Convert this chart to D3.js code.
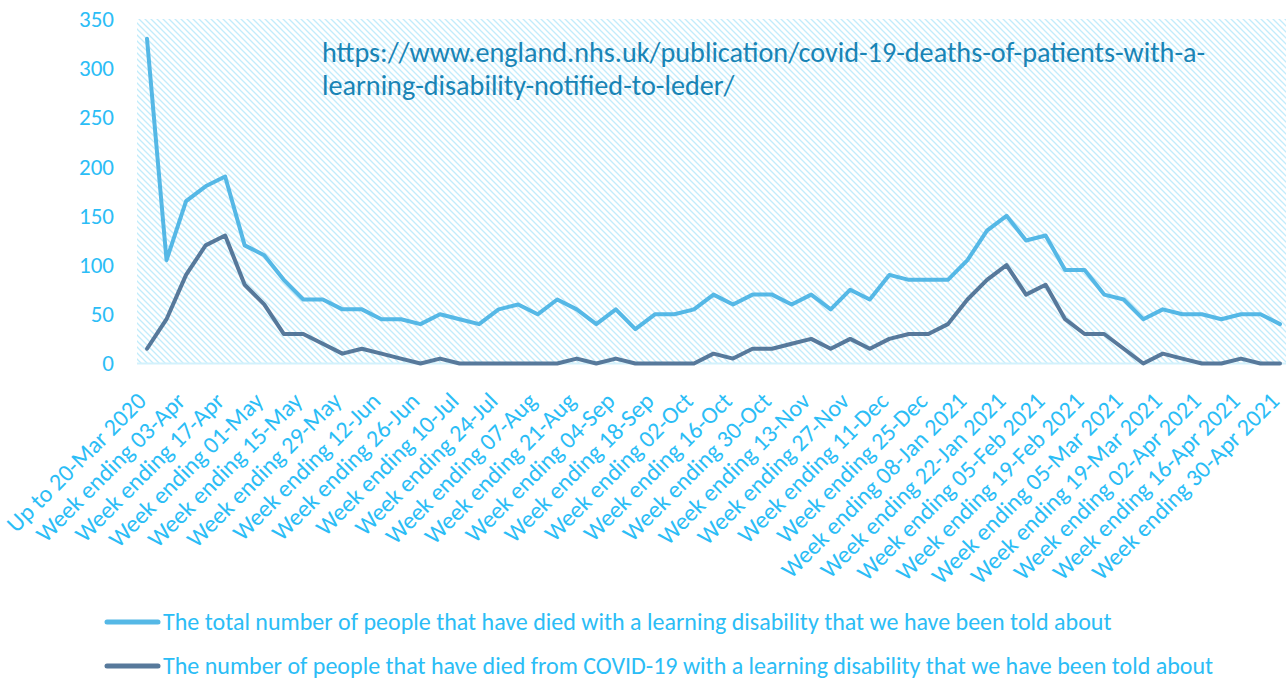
<!DOCTYPE html>
<html>
<head>
<meta charset="utf-8">
<script src="https://cdn.jsdelivr.net/npm/d3@7"></script>
<style>
  html, body { margin: 0; padding: 0; background: #fff; }
  svg { display: block; font-family: Carlito, Calibri, Lato, sans-serif; }
</style>
</head>
<body>
<div class="app"></div>
<script>
// weekly categories
var categories = [
  "Up to 20-Mar 2020", "Week ending 27-Mar", "Week ending 03-Apr", "Week ending 10-Apr",
  "Week ending 17-Apr", "Week ending 24-Apr", "Week ending 01-May", "Week ending 08-May",
  "Week ending 15-May", "Week ending 22-May", "Week ending 29-May", "Week ending 05-Jun",
  "Week ending 12-Jun", "Week ending 19-Jun", "Week ending 26-Jun", "Week ending 03-Jul",
  "Week ending 10-Jul", "Week ending 17-Jul", "Week ending 24-Jul", "Week ending 31-Jul",
  "Week ending 07-Aug", "Week ending 14-Aug", "Week ending 21-Aug", "Week ending 28-Aug",
  "Week ending 04-Sep", "Week ending 11-Sep", "Week ending 18-Sep", "Week ending 25-Sep",
  "Week ending 02-Oct", "Week ending 09-Oct", "Week ending 16-Oct", "Week ending 23-Oct",
  "Week ending 30-Oct", "Week ending 06-Nov", "Week ending 13-Nov", "Week ending 20-Nov",
  "Week ending 27-Nov", "Week ending 04-Dec", "Week ending 11-Dec", "Week ending 18-Dec",
  "Week ending 25-Dec", "Week ending 01-Jan 2021", "Week ending 08-Jan 2021", "Week ending 15-Jan 2021",
  "Week ending 22-Jan 2021", "Week ending 29-Jan 2021", "Week ending 05-Feb 2021", "Week ending 12-Feb 2021",
  "Week ending 19-Feb 2021", "Week ending 26-Feb 2021", "Week ending 05-Mar 2021", "Week ending 12-Mar 2021",
  "Week ending 19-Mar 2021", "Week ending 26-Mar 2021", "Week ending 02-Apr 2021", "Week ending 09-Apr 2021",
  "Week ending 16-Apr 2021", "Week ending 23-Apr 2021", "Week ending 30-Apr 2021"
];

// total deaths with a learning disability
var totalDeaths = [
  330, 105, 165, 180, 190, 120, 110, 85, 65, 65,
  55, 55, 45, 45, 40, 50, 45, 40, 55, 60,
  50, 65, 55, 40, 55, 35, 50, 50, 55, 70,
  60, 70, 70, 60, 70, 55, 75, 65, 90, 85,
  85, 85, 105, 135, 150, 125, 130, 95, 95, 70,
  65, 45, 55, 50, 50, 45, 50, 50, 40
];

// deaths from COVID-19
var covidDeaths = [
  15, 45, 90, 120, 130, 80, 60, 30, 30, 20,
  10, 15, 10, 5, 0, 5, 0, 0, 0, 0,
  0, 0, 5, 0, 5, 0, 0, 0, 0, 10,
  5, 15, 15, 20, 25, 15, 25, 15, 25, 30,
  30, 40, 65, 85, 100, 70, 80, 45, 30, 30,
  15, 0, 10, 5, 0, 0, 5, 0, 0
];

var yTicks = [0, 50, 100, 150, 200, 250, 300, 350];

var seriesNames = [
  "The total number of people that have died with a learning disability that we have been told about",
  "The number of people that have died from COVID-19 with a learning disability that we have been told about"
];
var seriesColors = ["#55b8e6", "#57799b"];

var sourceLines = [
  "https://www.england.nhs.uk/publication/covid-19-deaths-of-patients-with-a-",
  "learning-disability-notified-to-leder/"
];

var width = 1286, height = 679;
var plot = {left: 137, right: 1286, top: 19, bottom: 364};

var svg = d3.select(".app").append("svg")
    .attr("width", width)
    .attr("height", height);

// hatched plot background
var defs = svg.append("defs");
var pat = defs.append("pattern")
    .attr("id", "hatch")
    .attr("patternUnits", "userSpaceOnUse")
    .attr("width", 6)
    .attr("height", 6);
pat.append("rect").attr("width", 6).attr("height", 6).attr("fill", "#ffffff");
pat.append("path")
    .attr("d", "M-1,-1 L7,7 M-1,5 L1,7 M5,-1 L7,1")
    .attr("stroke", "#c2ecfb")
    .attr("stroke-width", 1.3);

svg.append("rect")
    .attr("x", plot.left)
    .attr("y", plot.top)
    .attr("width", plot.right - plot.left)
    .attr("height", plot.bottom - plot.top)
    .attr("fill", "url(#hatch)");

var x = d3.scalePoint().domain(categories).range([147, 1280]);
var y = d3.scaleLinear().domain([0, 350]).range([363.5, 19]);

// y axis labels
var yAxis = svg.append("g")
    .attr("transform", "translate(" + plot.left + ",0)")
    .call(d3.axisLeft(y).tickValues(yTicks).tickSize(0).tickPadding(23));
yAxis.select(".domain").remove();
yAxis.selectAll("text")
    .attr("font-size", "23px")
    .attr("font-family", "Carlito, Calibri, Lato, sans-serif")
    .attr("fill", "#2bbdf6");

// baseline
svg.append("line")
    .attr("x1", plot.left).attr("x2", plot.right)
    .attr("y1", y(0)).attr("y2", y(0))
    .attr("stroke", "#d3f1fc")
    .attr("stroke-width", 2);

// x axis labels, every other week
var xAxis = svg.append("g")
    .attr("transform", "translate(0," + y(0) + ")")
    .call(d3.axisBottom(x)
      .tickValues(categories.filter(function(d, i) { return i % 2 === 0; }))
      .tickSize(0));
xAxis.select(".domain").remove();
xAxis.selectAll("text")
    .attr("font-size", "24px")
    .attr("font-family", "Carlito, Calibri, Lato, sans-serif")
    .attr("fill", "#2bbdf6")
    .attr("text-anchor", "end")
    .attr("y", 0)
    .attr("dy", 0)
    .attr("transform", "translate(0,39) rotate(-45)");

// lines
var line = d3.line()
    .x(function(d, i) { return x(categories[i]); })
    .y(function(d) { return y(d); });

[totalDeaths, covidDeaths].forEach(function(s, k) {
  svg.append("path")
      .datum(s)
      .attr("fill", "none")
      .attr("stroke", seriesColors[k])
      .attr("stroke-width", 4)
      .attr("stroke-linejoin", "round")
      .attr("stroke-linecap", "round")
      .attr("d", line);
});

// source url
svg.append("text")
    .attr("x", 322)
    .attr("y", 62)
    .attr("font-size", "28.2px")
    .attr("fill", "#1984b5")
    .selectAll("tspan")
    .data(sourceLines)
    .enter().append("tspan")
    .attr("x", 322)
    .attr("dy", function(d, i) { return i === 0 ? 0 : 33; })
    .text(function(d) { return d; });

// legend
var legend = svg.append("g");
var legendY = d3.scalePoint().domain([0, 1]).range([622, 666]);
seriesNames.forEach(function(name, k) {
  legend.append("line")
      .attr("x1", 107).attr("x2", 158)
      .attr("y1", legendY(k)).attr("y2", legendY(k))
      .attr("stroke", seriesColors[k])
      .attr("stroke-width", 5)
      .attr("stroke-linecap", "round");
  legend.append("text")
      .attr("x", 163)
      .attr("y", legendY(k) + 8)
      .attr("font-size", "24px")
      .attr("fill", "#2bbdf6")
      .text(name);
});
</script>
</body>
</html>
